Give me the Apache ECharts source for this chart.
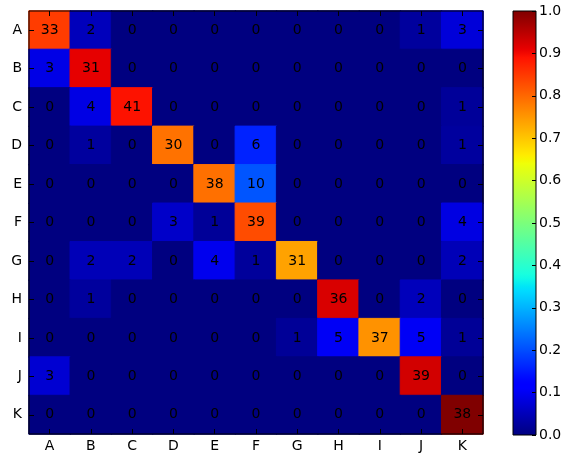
<!DOCTYPE html>
<html>
<head>
<meta charset="utf-8">
<script src="https://cdn.jsdelivr.net/npm/echarts@6/dist/echarts.min.js"></script>
<style>
html,body{margin:0;padding:0;background:#fff;}
#c{width:565px;height:453px;}
</style>
</head>
<body>
<div id="c"></div>
<script>
const categories = ['A','B','C','D','E','F','G','H','I','J','K'];
const rowA = [33,2,0,0,0,0,0,0,0,1,3];
const rowB = [3,31,0,0,0,0,0,0,0,0,0];
const rowC = [0,4,41,0,0,0,0,0,0,0,1];
const rowD = [0,1,0,30,0,6,0,0,0,0,1];
const rowE = [0,0,0,0,38,10,0,0,0,0,0];
const rowF = [0,0,0,3,1,39,0,0,0,0,4];
const rowG = [0,2,2,0,4,1,31,0,0,0,2];
const rowH = [0,1,0,0,0,0,0,36,0,2,0];
const rowI = [0,0,0,0,0,0,1,5,37,5,1];
const rowJ = [3,0,0,0,0,0,0,0,0,39,0];
const rowK = [0,0,0,0,0,0,0,0,0,0,38];
const rows = [rowA,rowB,rowC,rowD,rowE,rowF,rowG,rowH,rowI,rowJ,rowK];
const colorbarTicks = [0,0.1,0.2,0.3,0.4,0.5,0.6,0.7,0.8,0.9,1.0];

function interp(pts, x){
  for(let i=0;i<pts.length-1;i++){
    const [x0,y0]=pts[i],[x1,y1]=pts[i+1];
    if(x>=x0 && x<=x1){ return y0+(y1-y0)*(x-x0)/(x1-x0); }
  }
  return pts[pts.length-1][1];
}
const jr=[[0,0],[0.35,0],[0.66,1],[0.89,1],[1,0.5]];
const jg=[[0,0],[0.125,0],[0.375,1],[0.64,1],[0.91,0],[1,0]];
const jb=[[0,0.5],[0.11,1],[0.34,1],[0.65,0],[1,0]];
function jet(x){
  const r=Math.round(255*interp(jr,x)),g=Math.round(255*interp(jg,x)),b=Math.round(255*interp(jb,x));
  return 'rgb('+r+','+g+','+b+')';
}
const gradStops=[];
for(let i=0;i<=100;i++) gradStops.push({offset:1-i/100,color:jet(i/100)});

const data=[];
rows.forEach((row,ri)=>{
  const s=row.reduce((a,b)=>a+b,0);
  row.forEach((v,ci)=>{
    const c=jet(v/s);
    data.push({value:[ci,ri,v/s,v],itemStyle:{color:c,borderColor:c,borderWidth:1}});
  });
});

const font='DejaVu Sans';
const chart=echarts.init(document.getElementById('c'),null,{renderer:'canvas'});
chart.setOption({
  animation:false,
  backgroundColor:'#fff',
  grid:[
    {left:29,top:11,width:454,height:424,show:true,borderColor:'#000',borderWidth:1,backgroundColor:'transparent',z:10},
    {left:513,top:11,width:23,height:424,show:true,borderColor:'#000',borderWidth:1,backgroundColor:'transparent',z:10}
  ],
  xAxis:[
    {type:'category',data:categories,gridIndex:0,position:'bottom',
     axisLine:{show:false},axisTick:{show:true,inside:true,alignWithLabel:true,length:5,interval:0,lineStyle:{color:'#000'}},
     axisLabel:{color:'#000',fontFamily:font,fontSize:14,margin:5,interval:0},splitLine:{show:false},z:10},
    {type:'category',data:categories,gridIndex:0,position:'top',
     axisLine:{show:false},axisTick:{show:true,inside:true,alignWithLabel:true,length:5,interval:0,lineStyle:{color:'#000'}},
     axisLabel:{show:false},splitLine:{show:false},z:10},
    {type:'category',data:['cb'],gridIndex:1,show:false}
  ],
  yAxis:[
    {type:'category',data:categories,gridIndex:0,inverse:true,position:'left',
     axisLine:{show:false},axisTick:{show:true,inside:true,alignWithLabel:true,length:5,interval:0,lineStyle:{color:'#000'}},
     axisLabel:{color:'#000',fontFamily:font,fontSize:14,margin:7,interval:0},splitLine:{show:false},z:10},
    {type:'category',data:categories,gridIndex:0,inverse:true,position:'right',
     axisLine:{show:false},axisTick:{show:true,inside:true,alignWithLabel:true,length:5,interval:0,lineStyle:{color:'#000'}},
     axisLabel:{show:false},splitLine:{show:false},z:10},
    {type:'value',gridIndex:1,min:0,max:1,interval:0.1,position:'right',
     axisLine:{show:false},axisTick:{show:true,inside:true,length:4,lineStyle:{color:'#000'}},
     axisLabel:{color:'#000',fontFamily:font,fontSize:14,margin:3,formatter:v=>v.toFixed(1)},splitLine:{show:false},z:10}
  ],
  series:[
    {type:'heatmap',xAxisIndex:0,yAxisIndex:0,data:data,
     label:{show:true,color:'#000',fontFamily:font,fontSize:14,formatter:p=>String(p.value[3])},
     emphasis:{disabled:true}},
    {type:'bar',xAxisIndex:2,yAxisIndex:2,data:[colorbarTicks[colorbarTicks.length-1]],barWidth:'100%',silent:true,
     itemStyle:{color:{type:'linear',x:0,y:0,x2:0,y2:1,colorStops:gradStops}}}
  ]
});
</script>
</body>
</html>
